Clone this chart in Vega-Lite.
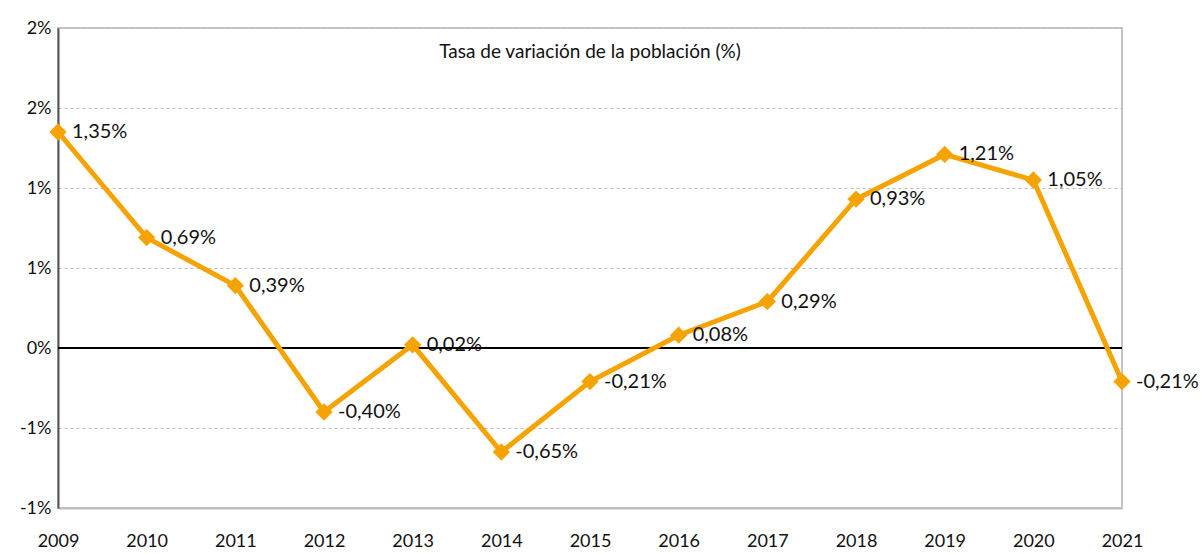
{
  "$schema": "https://vega.github.io/schema/vega-lite/v6.json",
  "width": 1064,
  "height": 480,
  "autosize": {"type": "none"},
  "padding": {"left": 58, "top": 28, "right": 80, "bottom": 46},
  "background": "white",
  "config": {
    "view": {"stroke": "#c4c4c4", "strokeWidth": 2},
    "font": "Lato"
  },
  "data": {
    "values": [
      {"year": 2009, "v": 1.35},
      {"year": 2010, "v": 0.69},
      {"year": 2011, "v": 0.39},
      {"year": 2012, "v": -0.40},
      {"year": 2013, "v": 0.02},
      {"year": 2014, "v": -0.65},
      {"year": 2015, "v": -0.21},
      {"year": 2016, "v": 0.08},
      {"year": 2017, "v": 0.29},
      {"year": 2018, "v": 0.93},
      {"year": 2019, "v": 1.21},
      {"year": 2020, "v": 1.05},
      {"year": 2021, "v": -0.21}
    ]
  },
  "encoding": {
    "x": {
      "field": "year",
      "type": "quantitative",
      "scale": {"domain": [2009, 2021], "nice": false, "zero": false},
      "axis": {
        "title": null,
        "values": [2009, 2010, 2011, 2012, 2013, 2014, 2015, 2016, 2017, 2018, 2019, 2020, 2021],
        "format": "d",
        "grid": false,
        "ticks": false,
        "labelPadding": 24,
        "labelFontSize": 18,
        "labelColor": "#111111",
        "labelFont": "Lato",
        "labelFlush": false,
        "labelBound": false,
        "domainColor": "#bdbdbd",
        "domainWidth": 2,
        "labelOverlap": false
      }
    },
    "y": {
      "field": "v",
      "type": "quantitative",
      "scale": {"domain": [-1, 2], "nice": false, "zero": false},
      "axis": {
        "title": null,
        "values": [-1, -0.5, 0, 0.5, 1, 1.5, 2],
        "labelExpr": "(datum.value < 0 ? '-' : '') + toString(round(abs(datum.value))) + '%'",
        "grid": true,
        "gridColor": "#bdbdbd",
        "gridDash": [3, 3],
        "gridWidth": 1,
        "ticks": false,
        "labelPadding": 7,
        "labelFontSize": 18,
        "labelColor": "#111111",
        "labelFont": "Lato",
        "labelFlush": false,
        "domainColor": "#555555",
        "domainWidth": 2
      }
    }
  },
  "layer": [
    {
      "mark": {"type": "rule", "color": "#000000", "strokeWidth": 1},
      "encoding": {"y": {"datum": 0}, "x": null}
    },
    {
      "transform": [{"filter": "datum.year == 2015"}],
      "mark": {"type": "text", "align": "center", "baseline": "middle", "fontSize": 19, "font": "Lato", "color": "#111111", "text": "Tasa de variación de la población (%)"},
      "encoding": {"x": {"datum": 2015, "type": "quantitative"}, "y": {"datum": 1.85, "type": "quantitative"}}
    },
    {
      "mark": {"type": "line", "color": "#F5A300", "strokeWidth": 5}
    },
    {
      "mark": {"type": "point", "shape": "diamond", "filled": true, "color": "#F5A300", "size": 300, "opacity": 1}
    },
    {
      "mark": {"type": "text", "align": "left", "baseline": "middle", "dx": 14, "fontSize": 20, "font": "Lato", "color": "#111111"},
      "encoding": {
        "text": {"field": "label"}
      },
      "transform": [
        {"calculate": "(datum.v < 0 ? '-' : '') + replace(format(abs(datum.v), '.2f'), '.', ',') + '%'", "as": "label"}
      ]
    }
  ]
}
